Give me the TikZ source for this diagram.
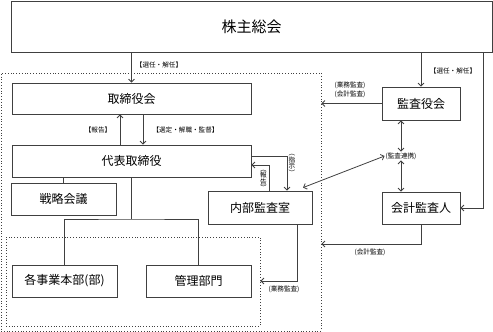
\documentclass[tikz,border=0pt]{standalone}
\usepackage{fontspec}
\setmainfont{Noto Sans CJK JP}
\usetikzlibrary{arrows.meta}
\definecolor{ln}{HTML}{404040}
\tikzset{
  box/.style={draw=ln, line width=0.8pt, rectangle, inner sep=0pt, font=\fontsize{12}{14}\selectfont},
  dotbox/.style={draw=ln, line width=0.8pt, dotted, rectangle, inner sep=0pt},
  lbl/.style={inner sep=0.8pt, font=\fontsize{6.6}{7.5}\selectfont, text=black},
  vlbl/.style={inner sep=0pt, align=center, font=\fontsize{6.6}{6.5}\selectfont},
  conn/.style={draw=ln, line width=0.8pt},
  arr/.style={conn, -{Straight Barb[length=3pt,width=6pt]}},
  darr/.style={conn, {Straight Barb[length=3pt,width=6pt]}-{Straight Barb[length=3pt,width=6pt]}}
}
\begin{document}
\begin{tikzpicture}[x=1pt,y=-1pt]
\useasboundingbox (0,0) rectangle (493,332);
% dotted frames
\node[dotbox, minimum width=320pt, minimum height=258pt] (outer) at (161,202) {};
\node[dotbox, minimum width=254pt, minimum height=89pt] (inner) at (133,281.5) {};
% boxes
\node[box, minimum width=481pt, minimum height=51pt, font=\fontsize{15}{17}\selectfont] (soukai) at (251.5,26.5) {株主総会};
\node[box, fill=white, minimum width=239pt, minimum height=31pt] (tori) at (131.5,98.5) {取締役会};
\node[box, fill=white, minimum width=239pt, minimum height=32pt] (daihyo) at (131.5,161) {代表取締役};
\node[box, fill=white, minimum width=105pt, minimum height=32pt] (senryaku) at (63.5,199) {戦略会議};
\node[box, fill=white, minimum width=105pt, minimum height=32pt] (jigyo) at (64.5,281) {各事業本部(部)};
\node[box, fill=white, minimum width=105pt, minimum height=32pt] (kanri) at (198.5,281) {管理部門};
\node[box, fill=white, minimum width=104pt, minimum height=33pt] (naibu) at (260,207.5) {内部監査室};
\node[box, fill=white, minimum width=78pt, minimum height=33pt] (kansa) at (421,103.5) {監査役会};
\node[box, fill=white, minimum width=78pt, minimum height=32pt] (kaikei) at (421,208) {会計監査人};
% labels
\node[lbl] (l1) at (159,65) {【選任・解任】};
\node[lbl] (l2) at (453,70.5) {【選任・解任】};
\node[lbl] (l3) at (98,130) {【報告】};
\node[lbl] (l4) at (185.5,130) {【選定・解職・監督】};
\node[lbl] (l5) at (350,85.5) {(業務監査)};
\node[lbl] (l6) at (350,94.5) {(会計監査)};
\node[lbl] (renkei) at (401,156) {(監査連携)};
\node[lbl] (l8) at (370,252.5) {(会計監査)};
\node[lbl] (l9) at (284,289) {(業務監査)};
\node[vlbl] (shiji) at (292,165) {︵\\指\\示\\︶};
\node[vlbl] (houkoku) at (263.5,180.5) {︵\\報\\告\\︶};
% connectors
\coordinate (rr) at (483,0);
\coordinate (jt) at (131.5,219);
\draw[arr] (tori.north |- soukai.south) -- (tori.north);
\draw[arr] (kansa.north |- soukai.south) -- (kansa.north);
\draw[arr] (soukai.south -| rr) |- (kaikei.east);
\draw[arr] ([xshift=-11.5pt]daihyo.north) -- ([xshift=-11.5pt]tori.south);
\draw[arr] ([xshift=11.5pt]tori.south) -- ([xshift=11.5pt]daihyo.north);
\draw[conn] (senryaku.north |- daihyo.south) -- (senryaku.north);
\draw[conn] (daihyo.south) -- (jt);
\draw[conn] (jigyo.north) |- (jt) -| (kanri.north);
\draw[arr] ([yshift=5pt]daihyo.east) -| ([xshift=27pt]naibu.north);
\draw[arr] ([xshift=9pt]naibu.north) |- ([yshift=-4pt]daihyo.east);
\draw[arr] (kansa.west) -- (kansa.west -| outer.east);
\draw[darr] (renkei.north |- kansa.south) -- (renkei.north);
\draw[darr] (renkei.south) -- (renkei.south |- kaikei.north);
\draw[darr] ([xshift=43pt,yshift=3pt]naibu.north) -- (renkei.west);
\draw[arr] (kaikei.south) |- (outer.east |- 0,244);
\draw[arr] ([xshift=37pt]naibu.south) |- (inner.east |- 0,281);
\end{tikzpicture}
\end{document}
